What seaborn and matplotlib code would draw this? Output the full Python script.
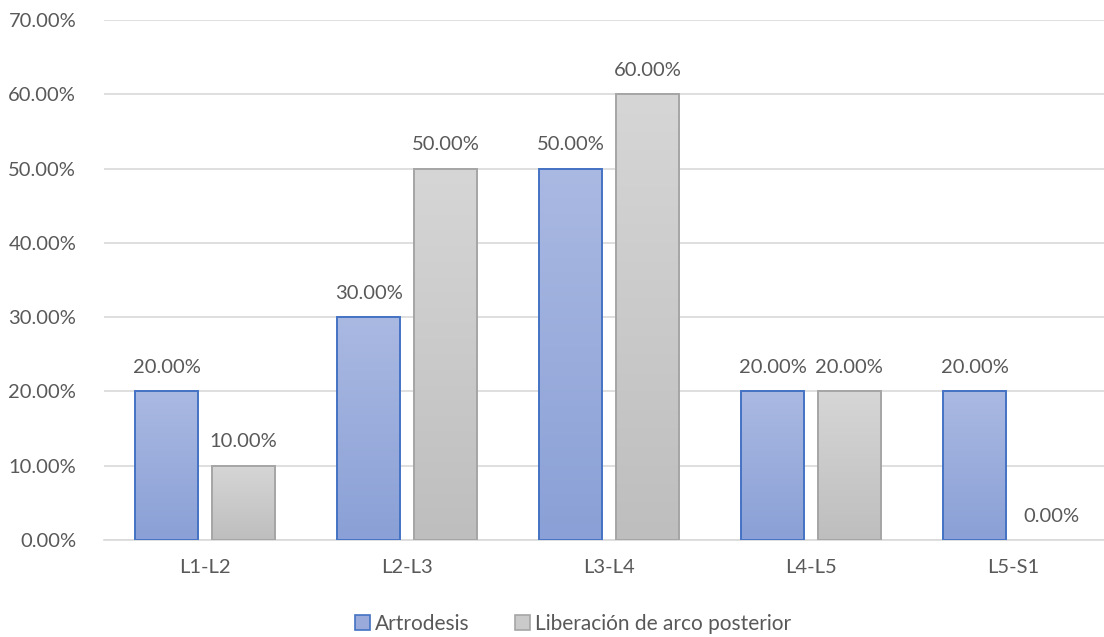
import numpy as np
import pandas as pd
import matplotlib
matplotlib.use("Agg")
import matplotlib.pyplot as plt
from matplotlib.colors import LinearSegmentedColormap
from matplotlib.patches import Patch
import seaborn as sns

# Data
niveles = ["L1-L2", "L2-L3", "L3-L4", "L4-L5", "L5-S1"]
artrodesis = [0.20, 0.30, 0.50, 0.20, 0.20]
liberacion = [0.10, 0.50, 0.60, 0.20, 0.00]
series = ["Artrodesis", "Liberación de arco posterior"]

df = pd.DataFrame({
    "nivel": niveles * 2,
    "valor": artrodesis + liberacion,
    "serie": [series[0]] * len(niveles) + [series[1]] * len(niveles),
})

sns.set_theme(style="white")
plt.rcParams["font.family"] = ["Lato", "DejaVu Sans"]
text_color = "#595959"
fs = 14.5

fig = plt.figure(figsize=(11.04, 6.37), dpi=100)
ax = fig.add_axes([104 / 1104, 97 / 637, 1010 / 1104, 520 / 637])

palette = {series[0]: "#9AABDB", series[1]: "#C9C9C9"}
sns.barplot(data=df, x="nivel", y="valor", hue="serie", order=niveles,
            hue_order=series, palette=palette, width=0.76, gap=0.18,
            ax=ax, legend=False, errorbar=None)

# Vertical gradient fill with outline for each bar
edges = {series[0]: "#4472C4", series[1]: "#A5A5A5"}
grads = {
    series[0]: LinearSegmentedColormap.from_list("g0", ["#8AA0D6", "#AAB9E2"]),
    series[1]: LinearSegmentedColormap.from_list("g1", ["#BEBEBE", "#D6D6D6"]),
}
grad = np.linspace(0, 1, 256).reshape(-1, 1)
for cont, s in zip(ax.containers, series):
    for bar in cont:
        x0, y0 = bar.get_x(), bar.get_y()
        w, h = bar.get_width(), bar.get_height()
        bar.set_facecolor("none")
        bar.set_edgecolor(edges[s])
        bar.set_linewidth(1.4 if h > 0 else 0)
        bar.set_zorder(3)
        if h > 0:
            im = ax.imshow(grad, cmap=grads[s], origin="lower", aspect="auto",
                           extent=(x0, x0 + w, y0, y0 + h), zorder=2,
                           interpolation="bicubic")
            im.set_clip_path(bar)
    ax.bar_label(cont, labels=[f"{v * 100:.2f}%" for v in cont.datavalues],
                 padding=11, color=text_color, fontsize=fs)

ax.set_xlim(-0.5, 4.5)
ax.set_ylim(0, 0.70)
ax.set_yticks(np.arange(0, 0.71, 0.10))
ax.set_yticklabels([f"{t * 100:.2f}%" for t in np.arange(0, 0.71, 0.10)])
ax.yaxis.grid(True, color="#D9D9D9", linewidth=1.2, zorder=0)
ax.set_axisbelow(True)
for sp in ["top", "right", "left"]:
    ax.spines[sp].set_visible(False)
ax.spines["bottom"].set_color("#D9D9D9")
ax.spines["bottom"].set_linewidth(1.2)
ax.tick_params(axis="both", length=0, colors=text_color, labelsize=fs)
ax.tick_params(axis="x", pad=14)
ax.tick_params(axis="y", pad=20)
ax.set_xlabel("")
ax.set_ylabel("")

handles = [Patch(facecolor="#9AABDB", edgecolor="#4472C4", linewidth=1.2),
           Patch(facecolor="#CACACA", edgecolor="#A5A5A5", linewidth=1.2)]
fig.legend(handles, series, loc="center", bbox_to_anchor=(573 / 1104, 1 - 624 / 637),
           ncol=2, frameon=False, fontsize=fs + 0.5, labelcolor=text_color,
           handlelength=0.7, handleheight=0.7, handletextpad=0.25,
           columnspacing=2.2)

fig.savefig("out.png", dpi=100)
